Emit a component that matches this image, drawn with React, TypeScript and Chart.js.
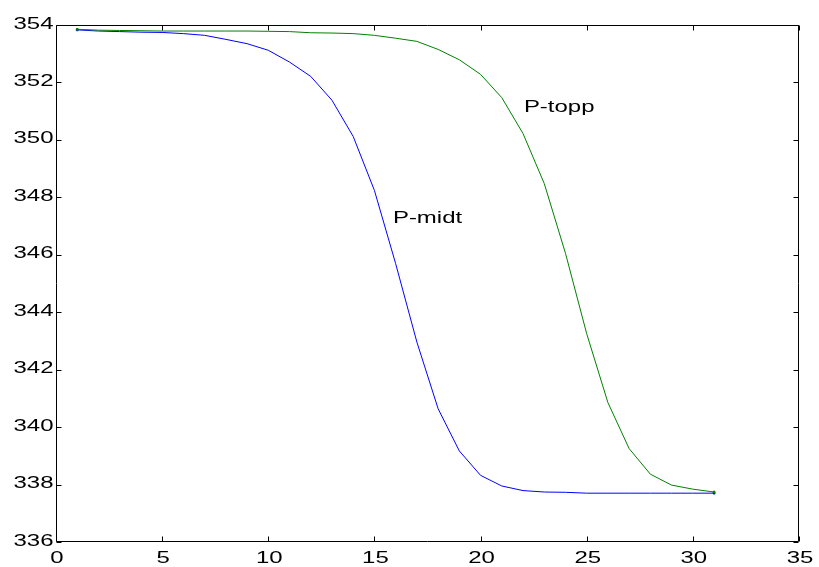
import React, { useEffect, useRef } from "react";
import { Chart, registerables } from "chart.js";

Chart.register(...registerables);

const xValues = [1, 2, 3, 4, 5, 6, 7, 8, 9, 10, 11, 12, 13, 14, 15, 16, 17, 18, 19, 20, 21, 22, 23, 24, 25, 26, 27, 28, 29, 30, 31];

const pMidt = [
  353.83, 353.79, 353.77, 353.75, 353.74, 353.70, 353.64, 353.50, 353.35, 353.12,
  352.71, 352.21, 351.38, 350.12, 348.24, 345.69, 342.96, 340.64, 339.17, 338.32,
  337.95, 337.79, 337.74, 337.73, 337.70, 337.70, 337.70, 337.70, 337.70, 337.70, 337.70,
];

const pTopp = [
  353.85, 353.82, 353.81, 353.80, 353.79, 353.79, 353.79, 353.79, 353.79, 353.78,
  353.77, 353.73, 353.72, 353.70, 353.64, 353.54, 353.43, 353.15, 352.79, 352.28,
  351.47, 350.22, 348.48, 346.05, 343.25, 340.85, 339.25, 338.36, 337.98, 337.84, 337.74,
];

const labelTexts = ["P-midt", "P-topp"];
const labelX = [15.87, 22.04];
const labelY = [347.11, 350.97];

const xMin = 0;
const xMax = 35;
const xStep = 5;
const yMin = 336;
const yMax = 354;
const yStep = 2;

const FONT = "'Liberation Sans', Arial, Helvetica, sans-serif";
const STRETCH = 1.41;

function drawStretched(ctx: any, txt: string, x: number, y: number, align: string) {
  ctx.save();
  ctx.translate(x, y);
  ctx.scale(STRETCH, 1);
  ctx.textAlign = align;
  ctx.fillText(txt, 0, 0);
  ctx.restore();
}

const framePlugin = {
  id: "matlabFrame",
  afterDatasetsDraw(chart: any) {
    const { ctx, chartArea, scales } = chart;
    const { left, right, top, bottom } = chartArea;
    ctx.save();
    ctx.strokeStyle = "#000";
    ctx.lineWidth = 1;
    const L = Math.round(left) + 0.5;
    const R = Math.round(right) - 0.5;
    const T = Math.round(top) + 0.5;
    const B = Math.round(bottom) - 0.5;
    ctx.beginPath();
    ctx.rect(L, T, R - L, B - T);
    ctx.stroke();
    const tl = 5;
    ctx.beginPath();
    scales.x.ticks.forEach((t: any) => {
      const px = Math.round(scales.x.getPixelForValue(t.value)) + 0.5;
      ctx.moveTo(px, B);
      ctx.lineTo(px, B - tl);
      ctx.moveTo(px, T);
      ctx.lineTo(px, T + tl);
    });
    scales.y.ticks.forEach((t: any) => {
      const py = Math.round(scales.y.getPixelForValue(t.value)) + 0.5;
      ctx.moveTo(L, py);
      ctx.lineTo(L + tl, py);
      ctx.moveTo(R, py);
      ctx.lineTo(R - tl, py);
    });
    ctx.stroke();

    ctx.fillStyle = "#000";
    ctx.font = `17px ${FONT}`;
    ctx.textBaseline = "alphabetic";
    // tick labels
    scales.x.ticks.forEach((t: any) => {
      const px = scales.x.getPixelForValue(t.value);
      drawStretched(ctx, String(t.label), px + 1, bottom + 21, "center");
    });
    scales.y.ticks.forEach((t: any) => {
      const py = scales.y.getPixelForValue(t.value);
      drawStretched(ctx, String(t.label), left - 2.5, py + 3.5, "right");
    });
    // curve labels
    labelTexts.forEach((txt, i) => {
      const px = scales.x.getPixelForValue(labelX[i]);
      const py = scales.y.getPixelForValue(labelY[i]);
      drawStretched(ctx, txt, px, py, "left");
    });
    ctx.restore();
  },
};

export default function App() {
  const ref = useRef<HTMLCanvasElement | null>(null);
  useEffect(() => {
    document.body.style.margin = "0";
    if (!ref.current) return;
    const endRadius = (ctx: any) =>
      ctx.dataIndex === 0 || ctx.dataIndex === xValues.length - 1 ? 1.2 : 0;
    const chart = new Chart(ref.current, {
      type: "line",
      data: {
        datasets: [
          {
            label: "P-topp",
            data: xValues.map((x, i) => ({ x, y: pTopp[i] })),
            borderColor: "#008000",
            backgroundColor: "#008000",
            borderWidth: 1,
            pointRadius: endRadius,
            pointStyle: "rect",
            tension: 0,
          },
          {
            label: "P-midt",
            data: xValues.map((x, i) => ({ x, y: pMidt[i] })),
            borderColor: "#0000ff",
            backgroundColor: "#0000ff",
            borderWidth: 1,
            pointRadius: endRadius,
            pointStyle: "rect",
            tension: 0,
          },
        ],
      },
      options: {
        responsive: false,
        animation: false,
        devicePixelRatio: 1,
        layout: { padding: { left: 0, top: 25, right: 20, bottom: 0 } },
        plugins: {
          legend: { display: false },
          tooltip: { enabled: false },
          title: { display: false },
        },
        scales: {
          x: {
            type: "linear",
            min: xMin,
            max: xMax,
            grid: { display: false, drawTicks: false },
            border: { display: false },
            ticks: {
              stepSize: xStep,
              display: true,
              color: "rgba(0,0,0,0)",
              font: { size: 17, family: FONT },
              padding: 6,
              maxRotation: 0,
              autoSkip: false,
            },
            afterFit: (s: any) => {
              s.height = 25;
            },
          },
          y: {
            type: "linear",
            min: yMin,
            max: yMax,
            grid: { display: false, drawTicks: false },
            border: { display: false },
            ticks: {
              stepSize: yStep,
              display: true,
              color: "rgba(0,0,0,0)",
              font: { size: 17, family: FONT },
              padding: 3,
              autoSkip: false,
            },
            afterFit: (s: any) => {
              s.width = 56;
            },
          },
        },
      },
      plugins: [framePlugin],
    });
    return () => chart.destroy();
  }, []);
  return (
    <div style={{ position: "absolute", left: 0, top: 0, width: 819, height: 567, background: "#fff" }}>
      <canvas ref={ref} width={819} height={567} style={{ display: "block" }} />
    </div>
  );
}
